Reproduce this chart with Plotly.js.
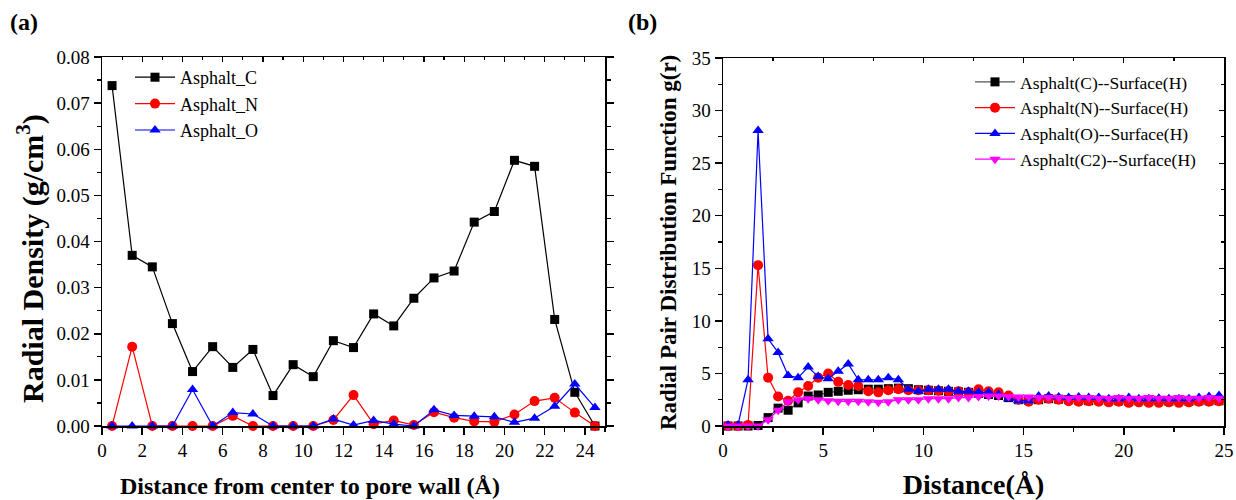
<!DOCTYPE html>
<html>
<head>
<meta charset="utf-8">
<script src="https://cdn.plot.ly/plotly-3.0.1.min.js"></script>
<style>html,body{margin:0;padding:0;background:#fff;}#chart{width:1236px;height:500px;}</style>
</head>
<body>
<div id="chart"></div>
<script>
// Panel (a): radial density
const distA = [0.5,1.5,2.5,3.5,4.5,5.5,6.5,7.5,8.5,9.5,10.5,11.5,12.5,13.5,14.5,15.5,16.5,17.5,18.5,19.5,20.5,21.5,22.5,23.5,24.5];
const asphaltC = [0.0738,0.0370,0.0345,0.0222,0.0118,0.0172,0.0127,0.0166,0.0066,0.0133,0.0107,0.0185,0.0170,0.0243,0.0217,0.0277,0.0321,0.0336,0.0442,0.0465,0.0576,0.0563,0.0231,0.0073,0.0000];
const asphaltN = [0.0000,0.0172,0.0000,0.0000,0.0000,0.0000,0.0022,0.0000,0.0000,0.0000,0.0000,0.0013,0.0067,0.0004,0.0012,0.0002,0.0030,0.0018,0.0010,0.0009,0.0025,0.0054,0.0061,0.0029,0.0000];
const asphaltO = [0.0000,0.0000,0.0000,0.0000,0.0079,0.0000,0.0029,0.0026,0.0000,0.0000,0.0000,0.0015,0.0002,0.0012,0.0004,0.0000,0.0035,0.0023,0.0021,0.0020,0.0008,0.0017,0.0043,0.0091,0.0040];

// Panel (b): radial pair distribution function
const distB = [0.25,0.75,1.25,1.75,2.25,2.75,3.25,3.75,4.25,4.75,5.25,5.75,6.25,6.75,7.25,7.75,8.25,8.75,9.25,9.75,10.25,10.75,11.25,11.75,12.25,12.75,13.25,13.75,14.25,14.75,15.25,15.75,16.25,16.75,17.25,17.75,18.25,18.75,19.25,19.75,20.25,20.75,21.25,21.75,22.25,22.75,23.25,23.75,24.25,24.75];
const gC  = [0,0,0,0.05,0.8,1.7,1.5,2.2,2.85,2.95,3.2,3.3,3.4,3.45,3.5,3.5,3.55,3.6,3.55,3.45,3.4,3.35,3.3,3.25,3.2,3.1,3.0,2.9,2.7,2.5,2.45,2.5,2.6,2.55,2.5,2.45,2.4,2.45,2.4,2.4,2.35,2.4,2.35,2.4,2.35,2.4,2.35,2.4,2.4,2.4];
const gN  = [0,0,0.1,15.3,4.6,2.8,2.4,3.2,3.8,4.6,5.0,4.2,3.9,3.8,3.3,3.2,3.4,3.5,3.4,3.4,3.4,3.35,3.3,3.3,3.2,3.5,3.3,3.2,2.9,2.5,2.3,2.5,2.6,2.5,2.35,2.3,2.35,2.3,2.25,2.3,2.2,2.25,2.2,2.2,2.25,2.2,2.25,2.3,2.3,2.35];
const gO  = [0.1,0.1,4.4,28.1,8.3,7.0,4.8,4.6,5.6,4.7,4.5,5.2,5.9,4.4,4.4,4.4,4.6,4.4,3.5,3.3,3.5,3.5,3.5,3.3,3.3,3.2,3.2,3.0,2.6,2.4,2.4,2.85,2.85,2.75,2.7,2.75,2.7,2.7,2.6,2.6,2.7,2.6,2.6,2.65,2.6,2.6,2.6,2.7,2.8,2.9];
const gC2 = [0,0,0,0,0.6,1.5,2.3,2.5,2.6,2.5,2.4,2.35,2.35,2.35,2.3,2.25,2.3,2.5,2.5,2.5,2.6,2.6,2.6,2.7,2.7,2.8,2.85,2.85,2.8,2.75,2.75,2.7,2.7,2.7,2.65,2.7,2.7,2.65,2.65,2.7,2.65,2.65,2.7,2.65,2.65,2.7,2.65,2.65,2.7,2.65];

const serif = "'Liberation Serif', 'Times New Roman', Times, serif";

function tr(x, y, name, color, symbol, size, xa, ya, leg) {
  return {x: x, y: y, name: name, type: 'scatter', mode: 'lines+markers',
    line: {color: color, width: 1.2},
    marker: {color: color, symbol: symbol, size: size, line: {width: 0}},
    xaxis: xa, yaxis: ya, legend: leg, cliponaxis: false};
}

const data = [
  tr(distA, asphaltC, 'Asphalt_C', '#000000', 'square', 9, 'x', 'y', 'legend'),
  tr(distA, asphaltN, 'Asphalt_N', '#ff0000', 'circle', 10, 'x', 'y', 'legend'),
  tr(distA, asphaltO, 'Asphalt_O', '#0000ff', 'triangle-up', 10, 'x', 'y', 'legend'),
  tr(distB, gC, 'Asphalt(C)--Surface(H)', '#000000', 'square', 9, 'x2', 'y2', 'legend2'),
  tr(distB, gN, 'Asphalt(N)--Surface(H)', '#ff0000', 'circle', 10, 'x2', 'y2', 'legend2'),
  tr(distB, gO, 'Asphalt(O)--Surface(H)', '#0000ff', 'triangle-up', 10, 'x2', 'y2', 'legend2'),
  tr(distB, gC2, 'Asphalt(C2)--Surface(H)', '#ff00ff', 'triangle-down', 10, 'x2', 'y2', 'legend2'),
  // empty helper traces so the top/right frame axes get drawn
  {x: [], y: [], type: 'scatter', xaxis: 'x3', yaxis: 'y', showlegend: false, hoverinfo: 'skip'},
  {x: [], y: [], type: 'scatter', xaxis: 'x4', yaxis: 'y4', showlegend: false, hoverinfo: 'skip'}
];
data[3].line.color = '#555555';

const axBase = {
  showline: true, linecolor: '#000', linewidth: 1.5, mirror: true,
  ticks: 'outside', ticklen: 7, tickwidth: 1.5, tickcolor: '#000',
  showgrid: false, zeroline: false,
  tickfont: {family: serif, size: 19, color: '#000'}
};
const domA = [102/1236, 605/1236], domB = [723/1236, 1224/1236];
const domYA = [1 - 426/500, 1 - 57/500], domYB = [1 - 426/500, 1 - 58/500];

const layout = {
  width: 1236, height: 500,
  margin: {l: 0, r: 0, t: 0, b: 0},
  paper_bgcolor: '#fff', plot_bgcolor: '#fff',
  showlegend: true,
  xaxis: Object.assign({}, axBase, {
    domain: domA, range: [0, 25], dtick: 2, tick0: 0,
    minor: {dtick: 1, ticks: 'outside', ticklen: 4, tickwidth: 1.2, tickcolor: '#000'},
    anchor: 'y'
  }),
  yaxis: Object.assign({}, axBase, {
    domain: domYA, range: [0, 0.08], dtick: 0.01, tickformat: '.2f', mirror: 'ticks',
    minor: {dtick: 0.005, ticks: 'outside', ticklen: 4, tickwidth: 1.2, tickcolor: '#000'},
    anchor: 'x'
  }),
  xaxis3: {
    overlaying: 'x', anchor: 'y', side: 'top', range: [0, 25], dtick: 2, tick0: 0,
    showline: false, showgrid: false, zeroline: false, showticklabels: false,
    ticks: 'inside', ticklen: 5, tickwidth: 1.2, tickcolor: '#000',
    minor: {dtick: 1, ticks: 'inside', ticklen: 3, tickwidth: 1.2, tickcolor: '#000'}
  },
  xaxis2: Object.assign({}, axBase, {
    domain: domB, range: [0, 25], dtick: 5, tick0: 0,
    minor: {dtick: 2.5, ticks: 'outside', ticklen: 4, tickwidth: 1.2, tickcolor: '#000'},
    anchor: 'y2',
    title: {text: '<b>Distance(Å)</b>', font: {family: serif, size: 28, color: '#000'}, standoff: 16}
  }),
  yaxis2: Object.assign({}, axBase, {
    domain: domYB, range: [0, 35], dtick: 5,
    minor: {dtick: 2.5, ticks: 'outside', ticklen: 4, tickwidth: 1.2, tickcolor: '#000'},
    anchor: 'x2'
  }),
  xaxis4: {
    overlaying: 'x2', anchor: 'y4', side: 'top', range: [0, 25], dtick: 5, tick0: 0,
    showline: false, showgrid: false, zeroline: false, showticklabels: false,
    ticks: 'inside', ticklen: 5, tickwidth: 1.2, tickcolor: '#000',
    minor: {dtick: 2.5, ticks: 'inside', ticklen: 3, tickwidth: 1.2, tickcolor: '#000'}
  },
  yaxis4: {
    overlaying: 'y2', anchor: 'x4', side: 'right', range: [0, 35], dtick: 5,
    showline: false, showgrid: false, zeroline: false, showticklabels: false,
    ticks: 'inside', ticklen: 5, tickwidth: 1.2, tickcolor: '#000',
    minor: {dtick: 2.5, ticks: 'inside', ticklen: 3, tickwidth: 1.2, tickcolor: '#000'}
  },
  legend: {x: 130/1236, y: 1 - 59/500, xanchor: 'left', yanchor: 'top',
    bgcolor: 'rgba(0,0,0,0)', font: {family: serif, size: 18, color: '#000'},
    tracegroupgap: 0, itemwidth: 40},
  legend2: {x: 970/1236, y: 1 - 64/500, xanchor: 'left', yanchor: 'top',
    bgcolor: 'rgba(0,0,0,0)', font: {family: serif, size: 17.5, color: '#000'},
    tracegroupgap: 0, itemwidth: 40},
  annotations: [
    {text: '<b>(a)</b>', x: 8/1236, y: 1 - 22/500, xref: 'paper', yref: 'paper', xanchor: 'left', yanchor: 'middle', showarrow: false, font: {family: serif, size: 24, color: '#000'}},
    {text: '<b>(b)</b>', x: 626/1236, y: 1 - 22/500, xref: 'paper', yref: 'paper', xanchor: 'left', yanchor: 'middle', showarrow: false, font: {family: serif, size: 24, color: '#000'}},
    {text: '<b>Distance from center to pore wall (Å)</b>', x: 310/1236, y: 1 - 486/500, xref: 'paper', yref: 'paper', xanchor: 'center', yanchor: 'middle', showarrow: false, font: {family: serif, size: 24, color: '#000'}},
    {text: '<b>Radial Density (g/cm<sup>3</sup>)</b>', x: 30/1236, y: 1 - 259/500, xref: 'paper', yref: 'paper', xanchor: 'center', yanchor: 'middle', textangle: -90, showarrow: false, font: {family: serif, size: 30, color: '#000'}},
    {text: '<b>Radial Pair Distribution Function g(r)</b>', x: 668/1236, y: 1 - 243/500, xref: 'paper', yref: 'paper', xanchor: 'center', yanchor: 'middle', textangle: -90, showarrow: false, font: {family: serif, size: 23, color: '#000'}}
  ]
};

Plotly.newPlot('chart', data, layout, {staticPlot: true, displayModeBar: false});
</script>
</body>
</html>
